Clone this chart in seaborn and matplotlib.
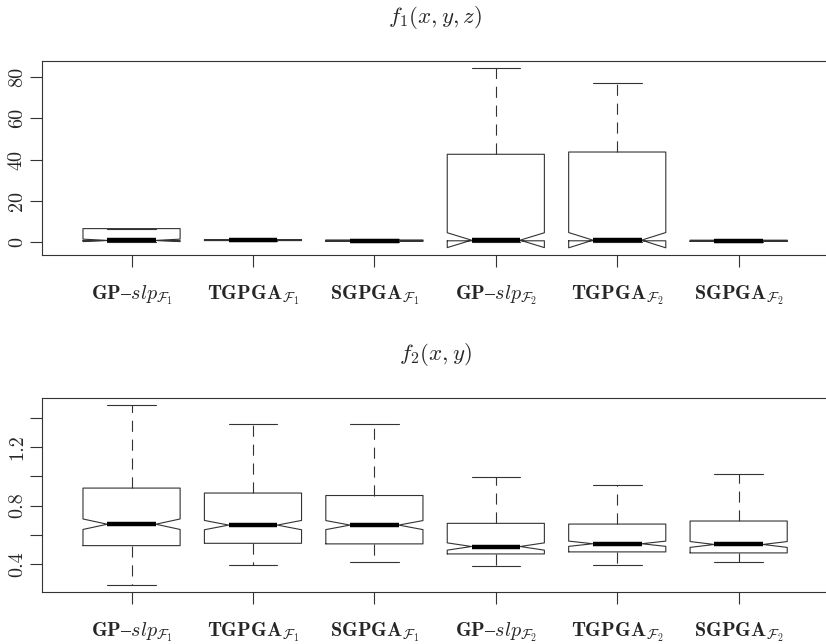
import matplotlib
matplotlib.use("Agg")
import matplotlib.pyplot as plt
import seaborn as sns

# ---------------- data ----------------
methods = [r"$\mathbf{GP}\mathrm{–}slp_{\mathcal{F}_1}$", r"$\mathbf{TGPGA}_{\mathcal{F}_1}$",
           r"$\mathbf{SGPGA}_{\mathcal{F}_1}$", r"$\mathbf{GP}\mathrm{–}slp_{\mathcal{F}_2}$",
           r"$\mathbf{TGPGA}_{\mathcal{F}_2}$", r"$\mathbf{SGPGA}_{\mathcal{F}_2}$"]

# f1(x, y, z)
f1_whislo = [0.2, 0.6, 0.3, 0.2, 0.2, 0.3]
f1_q1 = [0.8, 0.8, 0.4, 0.7, 0.7, 0.4]
f1_med = [0.9, 1.0, 0.7, 1.0, 1.0, 0.5]
f1_q3 = [6.6, 1.2, 1.1, 42.6, 43.7, 1.0]
f1_whishi = [6.6, 1.5, 1.5, 84.3, 77.3, 1.2]
f1_cilo = [0.3, 0.95, 0.6, -2.6, -2.7, 0.45]
f1_cihi = [1.5, 1.05, 0.8, 4.6, 4.7, 0.55]
f1_yticks = [0, 20, 40, 60, 80]
f1_yticklabels = ["0", "20", "40", "60", "80"]

# f2(x, y)
f2_whislo = [0.256, 0.395, 0.414, 0.386, 0.393, 0.411]
f2_q1 = [0.525, 0.541, 0.537, 0.468, 0.482, 0.475]
f2_med = [0.672, 0.666, 0.666, 0.519, 0.538, 0.533]
f2_q3 = [0.920, 0.886, 0.869, 0.678, 0.673, 0.694]
f2_whishi = [1.487, 1.359, 1.359, 0.995, 0.940, 1.017]
f2_cilo = [0.636, 0.634, 0.635, 0.494, 0.520, 0.513]
f2_cihi = [0.708, 0.698, 0.697, 0.544, 0.556, 0.553]
f2_yticks = [0.4, 0.6, 0.8, 1.0, 1.2, 1.4]
f2_yticklabels = ["0.4", "", "0.8", "", "1.2", ""]

titles = [r"$f_1(x,y,z)$", r"$f_2(x,y)$"]

# ---------------- style ----------------
sns.set_theme(style="white")
plt.rcParams["font.family"] = ["cmr10", "DejaVu Serif"]
plt.rcParams["mathtext.fontset"] = "cm"
plt.rcParams["axes.formatter.use_mathtext"] = True
plt.rcParams["axes.unicode_minus"] = False

W, H = 826, 644
fig = plt.figure(figsize=(W / 100, H / 100), dpi=100)

def axes_rect(left, top, right, bottom):
    return [left / W, 1 - bottom / H, (right - left) / W, (bottom - top) / H]

ax1 = fig.add_axes(axes_rect(41.7, 61, 828.5, 255))
ax2 = fig.add_axes(axes_rect(41.7, 398.3, 828.5, 592))

edge = "#333333"

def draw(ax, whislo, q1, med, q3, whishi, cilo, cihi, yticks, yticklabels, title):
    stats = []
    for i in range(len(methods)):
        stats.append(dict(whislo=whislo[i], q1=q1[i], med=med[i], q3=q3[i],
                          whishi=whishi[i], cilo=cilo[i], cihi=cihi[i], fliers=[]))
    pos = list(range(1, len(methods) + 1))
    ax.bxp(stats, positions=pos, widths=0.8, shownotches=True, showfliers=False,
           patch_artist=False,
           boxprops=dict(color=edge, linewidth=0.8),
           medianprops=dict(color="black", linewidth=3.2, solid_capstyle="butt"),
           whiskerprops=dict(color=edge, linewidth=0.8, linestyle=(0, (10, 7))),
           capprops=dict(color=edge, linewidth=0.8))
    lo = min(min(whislo), min(cilo))
    hi = max(max(whishi), max(cihi))
    r = hi - lo
    ax.set_ylim(lo - 0.04 * r, hi + 0.04 * r)
    ax.set_xlim(0.5 - 0.04 * 6, 6.5 + 0.04 * 6)
    ax.set_xticks(pos)
    ax.set_xticklabels(methods, fontsize=14.5)
    ax.set_yticks(yticks)
    ax.set_yticklabels(yticklabels, rotation=90, va="center", fontsize=14.5)
    ax.tick_params(axis="both", direction="out", length=8.4, width=0.8, color=edge,
                   left=True, bottom=True)
    ax.tick_params(axis="x", pad=12)
    ax.tick_params(axis="y", pad=3)
    for s in ax.spines.values():
        s.set_color(edge)
        s.set_linewidth(0.8)
        s.set_visible(True)
    ax.set_title(title, fontsize=16.5, pad=27.5)
    ax.grid(False)

draw(ax1, f1_whislo, f1_q1, f1_med, f1_q3, f1_whishi, f1_cilo, f1_cihi,
     f1_yticks, f1_yticklabels, titles[0])
draw(ax2, f2_whislo, f2_q1, f2_med, f2_q3, f2_whishi, f2_cilo, f2_cihi,
     f2_yticks, f2_yticklabels, titles[1])

fig.savefig("out.png", dpi=100, facecolor="white")
